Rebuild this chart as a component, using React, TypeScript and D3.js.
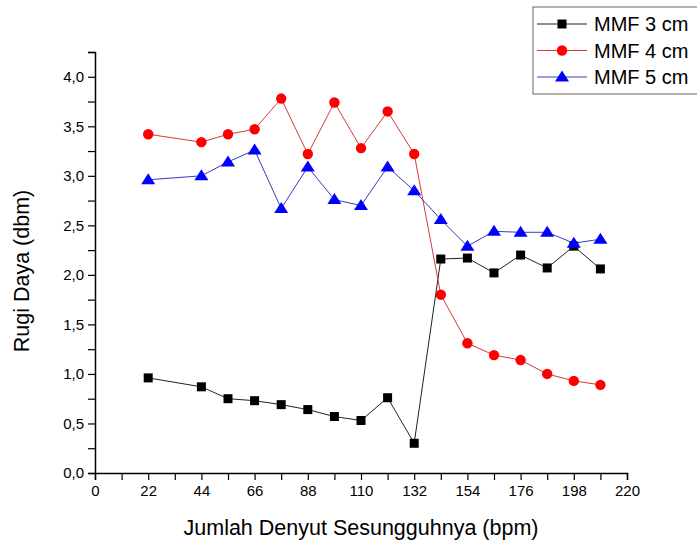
import React, { useEffect, useRef } from 'react';
import * as d3 from 'd3';

const W = 697;
const H = 544;
const MARGIN = { top: 52, right: 70, bottom: 71, left: 95 };

const bpm = [22, 44, 55, 66, 77, 88, 99, 110, 121, 132, 143, 154, 165, 176, 187, 198, 209];
const mmf3 = [0.96, 0.87, 0.75, 0.73, 0.69, 0.64, 0.57, 0.53, 0.76, 0.3, 2.16, 2.17, 2.02, 2.2, 2.07, 2.29, 2.06];
const mmf4 = [3.42, 3.34, 3.42, 3.47, 3.78, 3.22, 3.74, 3.28, 3.65, 3.22, 1.8, 1.31, 1.19, 1.14, 1.0, 0.93, 0.89];
const mmf5 = [2.96, 3.0, 3.14, 3.26, 2.67, 3.09, 2.76, 2.7, 3.09, 2.85, 2.56, 2.29, 2.44, 2.43, 2.43, 2.32, 2.36];
const seriesNames = ['MMF 3 cm', 'MMF 4 cm', 'MMF 5 cm'];
const seriesColors = ['#000000', '#ff0000', '#0000ff'];
const lineColors = ['#222222', '#d43a3a', '#3a3ac0'];
const seriesShapes = ['square', 'circle', 'triangle'];

const FONT = 'Arial, "Liberation Sans", sans-serif';

function drawMarker(g, shape, x, y, color) {
  if (shape === 'square') {
    g.append('rect').attr('x', x - 4.5).attr('y', y - 4.5).attr('width', 9).attr('height', 9).attr('fill', color);
  } else if (shape === 'circle') {
    g.append('circle').attr('cx', x).attr('cy', y).attr('r', 5.2).attr('fill', color);
  } else {
    g.append('path')
      .attr('d', `M${x},${y - 6.5} L${x + 7},${y + 4.5} L${x - 7},${y + 4.5} Z`)
      .attr('fill', color);
  }
}

export default function App() {
  const svgRef = useRef(null);

  useEffect(() => {
    const svg = d3.select(svgRef.current);
    svg.selectAll('*').remove();
    const innerW = W - MARGIN.left - MARGIN.right;
    const innerH = H - MARGIN.top - MARGIN.bottom;

    const x = d3.scaleLinear().domain([0, 220]).range([0, innerW]);
    const y = d3.scaleLinear().domain([0, 4.25]).range([innerH, 0]);

    const g = svg.append('g').attr('transform', `translate(${MARGIN.left},${MARGIN.top})`);

    const fmt = (d) => d3.format('.1f')(d).replace('.', ',');

    // axes
    const xAxis = g.append('g').attr('transform', `translate(0,${innerH})`)
      .call(d3.axisBottom(x).tickValues(d3.range(0, 221, 11))
        .tickFormat((d) => (d % 22 === 0 ? String(d) : '')).tickSizeOuter(0).tickSize(7).tickPadding(5));
    const yAxis = g.append('g')
      .call(d3.axisLeft(y).tickValues(d3.range(0, 4.26, 0.25))
        .tickFormat((d) => (Math.round(d * 100) % 50 === 0 ? fmt(d) : '')).tickSizeOuter(0).tickSize(7).tickPadding(4));
    [xAxis, yAxis].forEach((a) => {
      a.selectAll('path').attr('stroke', '#000').attr('stroke-width', 1.5);
      a.selectAll('line').attr('stroke', '#000').attr('stroke-width', 1.2);
      a.selectAll('text').attr('fill', '#000').attr('font-size', 15).attr('font-family', FONT);
    });

    // series
    const all = [mmf3, mmf4, mmf5];
    all.forEach((vals, i) => {
      const line = d3.line().x((d) => x(d[0])).y((d) => y(d[1]));
      g.append('path')
        .datum(bpm.map((b, j) => [b, vals[j]]))
        .attr('d', line)
        .attr('fill', 'none')
        .attr('stroke', lineColors[i])
        .attr('stroke-width', 1);
    });
    all.forEach((vals, i) => {
      bpm.forEach((b, j) => drawMarker(g, seriesShapes[i], x(b), y(vals[j]), seriesColors[i]));
    });

    // axis titles
    svg.append('text')
      .attr('x', MARGIN.left + innerW / 2).attr('y', 535)
      .attr('text-anchor', 'middle').attr('font-size', 21.5).attr('font-family', FONT)
      .text('Jumlah Denyut Sesungguhnya (bpm)');
    svg.append('text')
      .attr('transform', `translate(29,271) rotate(-90)`)
      .attr('text-anchor', 'middle').attr('font-size', 21.5).attr('font-family', FONT)
      .text('Rugi Daya (dbm)');

    // legend
    const lg = svg.append('g').attr('transform', 'translate(533,7)');
    lg.append('rect').attr('x', 0).attr('y', 0).attr('width', 170).attr('height', 87)
      .attr('fill', '#fff').attr('stroke', '#666').attr('stroke-width', 1);
    seriesNames.forEach((name, i) => {
      const cy = 17 + i * 26.5;
      lg.append('line').attr('x1', 4).attr('x2', 54).attr('y1', cy).attr('y2', cy)
        .attr('stroke', lineColors[i]).attr('stroke-width', 1);
      drawMarker(lg, seriesShapes[i], 29, cy, seriesColors[i]);
      lg.append('text').attr('x', 61).attr('y', cy + 7)
        .attr('font-size', 20).attr('font-family', FONT).text(name);
    });
  }, []);

  return (
    <svg ref={svgRef} width={W} height={H}
      style={{ position: 'absolute', left: 0, top: 0, display: 'block', background: '#fff' }} />
  );
}
